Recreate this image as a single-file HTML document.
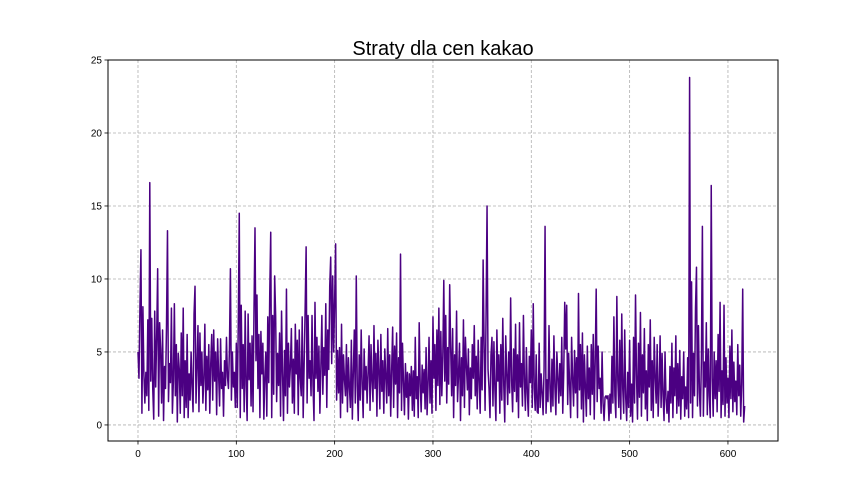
<!DOCTYPE html>
<html><head><meta charset="utf-8"><style>
body{margin:0;background:#fff;}
svg{display:block;font-family:"Liberation Sans","DejaVu Sans",sans-serif;}
</style></head><body>
<svg id="chart" width="864" height="504">
<rect width="864" height="504" fill="#fff"/>
<text x="443" y="55" text-anchor="middle" font-size="20">Straty dla cen kakao</text>
<g id="grid"></g><g id="ticks"></g><g id="series"></g>
<rect x="108" y="60" width="670" height="381" fill="none" stroke="#000" stroke-width="1"/>
</svg>
<script>
const xTicks=[0,100,200,300,400,500,600];
const yTicks=[0,5,10,15,20,25];
const values=[
5.0,3.2,8.2,12.0,0.8,8.1,3.5,1.5,3.6,2.0,7.2,1.0,16.6,3.0,7.3,2.5,0.4,7.8,2.6,6.0,
10.7,0.6,7.0,5.2,1.5,6.5,0.3,4.0,2.5,6.8,13.3,1.6,4.2,2.9,8.0,0.8,3.0,8.3,2.0,5.5,
0.2,4.9,3.8,0.8,6.3,2.0,8.0,0.5,4.4,1.2,6.2,0.5,3.5,1.7,5.0,2.6,0.9,7.6,9.5,1.5,
4.0,6.8,0.9,6.3,2.7,5.0,1.5,3.2,6.9,1.0,4.7,2.4,5.5,0.8,4.2,6.2,1.7,6.5,3.0,5.0,
0.7,5.9,3.4,1.3,5.9,2.5,3.6,0.6,4.4,2.7,6.0,3.3,2.5,5.2,10.7,1.7,5.0,2.6,3.6,1.2,
5.6,1.2,7.0,14.5,0.5,8.2,2.5,5.5,0.9,7.8,2.7,0.3,7.6,3.1,5.6,1.3,6.1,0.9,8.0,13.5,
4.4,8.9,2.5,6.2,0.5,6.4,3.5,5.6,0.4,3.3,5.0,0.6,7.4,2.9,9.0,13.2,0.5,7.5,2.1,10.2,
7.5,1.6,4.9,2.7,6.3,0.6,7.8,3.5,0.3,5.1,2.0,9.3,0.8,5.6,2.6,4.0,6.6,1.5,4.5,0.8,
6.9,3.5,5.8,0.7,6.5,3.2,2.0,7.4,0.5,4.2,8.0,12.2,1.5,7.5,3.2,4.4,2.0,7.5,2.7,0.3,
8.4,3.2,6.0,2.3,5.4,0.8,4.0,7.5,2.1,5.3,3.4,8.3,1.2,6.5,3.8,9.5,11.5,4.2,10.2,5.0,
8.5,12.4,1.7,5.1,2.2,5.3,0.5,6.9,1.5,4.8,3.1,2.0,5.5,0.9,4.6,2.6,1.2,5.8,0.4,3.6,
6.5,1.5,10.2,2.7,0.3,4.8,1.7,6.5,2.8,0.5,5.2,2.4,4.0,1.5,3.6,6.1,1.0,5.5,3.0,1.6,
6.8,2.5,4.9,0.6,5.8,3.7,1.1,6.2,2.3,4.4,0.8,5.2,3.3,1.5,6.6,2.0,4.8,0.6,3.8,6.7,
1.2,5.4,2.8,6.3,0.5,4.6,2.2,11.7,1.0,5.6,3.0,0.7,4.2,1.9,3.6,0.4,3.5,2.0,4.0,1.0,
3.7,0.6,6.0,1.8,3.3,0.5,7.0,2.8,0.9,4.1,2.2,3.8,1.1,5.3,0.7,2.8,6.0,1.5,4.4,0.8,
7.4,3.2,5.5,1.0,6.5,2.7,8.0,1.4,6.4,2.0,4.7,9.9,3.0,7.5,1.5,5.3,2.8,9.6,5.3,2.0,
6.6,0.5,4.8,2.7,7.8,1.6,3.5,5.6,0.3,4.6,2.0,7.2,1.2,6.0,4.1,2.4,5.2,0.7,3.9,1.8,
5.5,3.2,6.8,2.0,4.7,1.1,5.8,3.0,0.8,6.0,2.4,11.3,5.5,1.0,7.6,15.0,3.8,2.5,0.5,4.8,
6.0,1.3,5.7,2.4,0.3,6.5,3.0,4.8,0.8,5.5,1.7,7.3,2.7,0.2,6.1,3.5,1.4,5.0,2.2,8.7,
3.0,0.9,5.2,2.3,6.9,1.6,4.8,0.5,7.0,2.6,4.2,1.3,7.5,3.0,1.0,5.3,2.2,0.6,4.7,2.9,
6.5,1.2,8.3,2.5,1.0,4.8,0.9,0.8,5.6,1.2,3.5,2.2,0.7,3.9,13.6,0.8,3.1,1.6,6.8,2.5,
0.9,4.5,1.3,6.1,2.6,0.7,5.0,3.3,1.5,4.2,2.0,6.0,0.8,3.6,8.4,5.2,8.2,1.4,4.9,2.7,
0.5,6.0,3.2,1.3,5.1,2.2,4.6,0.5,9.0,2.4,5.5,1.1,6.3,0.2,4.8,2.6,0.6,5.4,1.8,3.9,
0.7,5.5,2.1,6.2,0.4,4.4,9.3,1.6,5.4,2.5,3.2,0.8,5.0,1.5,0.3,1.9,2.0,1.8,2.0,0.3,
2.1,0.8,4.7,1.5,7.4,2.0,0.5,8.8,3.0,1.2,5.8,0.4,7.6,2.5,0.8,6.5,1.9,0.3,3.6,1.2,
5.8,0.6,2.8,0.2,6.0,1.5,8.9,3.4,0.4,5.6,1.9,7.7,0.6,4.8,2.2,6.6,1.1,3.7,0.3,5.5,
2.6,7.2,1.0,4.4,0.5,6.0,3.3,1.5,5.5,0.6,2.6,6.1,1.2,4.9,2.0,0.3,5.0,1.8,0.8,2.3,
0.2,4.0,1.5,5.6,0.5,3.9,2.0,6.1,0.8,4.2,1.3,5.1,0.4,3.3,1.8,5.0,0.6,2.6,1.1,4.6,
0.5,23.8,1.5,9.8,0.5,4.9,2.0,8.0,10.8,1.3,6.8,2.2,0.6,4.5,13.6,0.6,4.3,2.6,7.0,0.7,
5.2,2.0,0.5,16.4,3.2,0.6,5.0,1.8,4.4,0.9,6.2,2.3,8.4,0.5,3.7,1.4,8.2,0.6,4.6,1.5,
3.2,0.5,5.4,1.8,6.5,0.9,4.3,1.6,3.0,0.7,5.5,2.0,4.1,0.6,2.8,9.3,0.2,1.3
];
const NS="http://www.w3.org/2000/svg";
const L=108,R=778,T=60,B=441;
const xMin=-30.5,xMax=650.9,yMin=-1.1,yMax=25;
function xs(v){return L+(v-xMin)/(xMax-xMin)*(R-L);}
function ys(v){return B-(v-yMin)/(yMax-yMin)*(B-T);}
function mk(tag,attrs,parent){const e=document.createElementNS(NS,tag);for(const k in attrs)e.setAttribute(k,attrs[k]);parent.appendChild(e);return e;}
const grid=document.getElementById('grid'),ticks=document.getElementById('ticks'),series=document.getElementById('series');
xTicks.forEach(t=>{const x=xs(t);
const g=mk('line',{x1:x,x2:x,y1:T,y2:B,stroke:'#b0b0b0','stroke-width':0.8,'stroke-dasharray':'3,2'},grid);


mk('line',{x1:x,x2:x,y1:B,y2:B+3.5,stroke:'#000','stroke-width':0.8},ticks);
const tx=mk('text',{x:x,y:B+16,'text-anchor':'middle','font-size':10},ticks);tx.textContent=t;

});
yTicks.forEach(t=>{const y=ys(t);
const g=mk('line',{x1:L,x2:R,y1:y,y2:y,stroke:'#b0b0b0','stroke-width':0.8,'stroke-dasharray':'3,2'},grid);


mk('line',{x1:L-3.5,x2:L,y1:y,y2:y,stroke:'#000','stroke-width':0.8},ticks);
const tx=mk('text',{x:L-6,y:y+3.5,'text-anchor':'end','font-size':10},ticks);tx.textContent=t;

});
const d=values.map((v,i)=>(i?'L':'M')+xs(i).toFixed(2)+' '+ys(v).toFixed(2)).join('');
const p=mk('path',{d:d,fill:'none',stroke:'#4b0082','stroke-width':1.5,'stroke-linejoin':'round'},series);


</script>
</body></html>
